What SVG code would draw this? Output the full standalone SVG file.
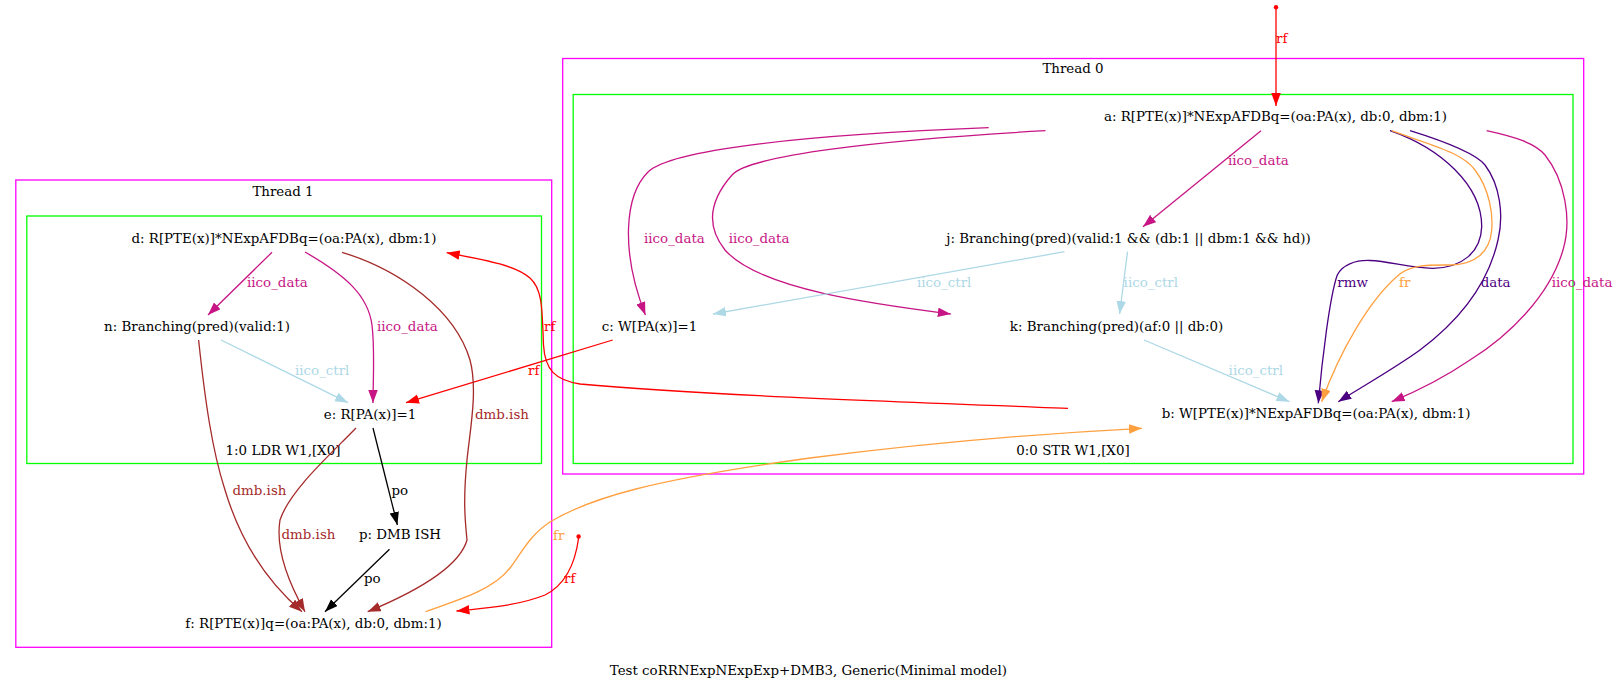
<svg xmlns="http://www.w3.org/2000/svg" width="1619" height="689" viewBox="0 0 1619 689">
<style>
text{font-family:"DejaVu Serif","Liberation Serif",serif;font-size:13.4px;fill:#000}
.c{text-anchor:middle}
.cl1{fill:none;stroke:#ff00ff;stroke-width:1.3}
.cl2{fill:none;stroke:#00ff00;stroke-width:1.3}
.e{fill:none;stroke-width:1.3}
.rf{stroke:#ff0000}.trf{fill:#ff0000}
.id{stroke:#c71585}.tid{fill:#c71585}
.ic{stroke:#add8e6}.tic{fill:#add8e6}
.dm{stroke:#a52a2a}.tdm{fill:#a52a2a}
.po{stroke:#000}.tpo{fill:#000}
.fr{stroke:#ffa040}.tfr{fill:#ffa040}
.in{stroke:#4b0082}.tin{fill:#4b0082}
</style>
<defs>
<marker id="mrf" markerUnits="userSpaceOnUse" markerWidth="14" markerHeight="10" refX="13" refY="4.75" orient="auto"><path d="M0,0L13,4.75L0,9.5z" fill="#ff0000"/></marker>
<marker id="mid" markerUnits="userSpaceOnUse" markerWidth="14" markerHeight="10" refX="13" refY="4.75" orient="auto"><path d="M0,0L13,4.75L0,9.5z" fill="#c71585"/></marker>
<marker id="mic" markerUnits="userSpaceOnUse" markerWidth="14" markerHeight="10" refX="13" refY="4.75" orient="auto"><path d="M0,0L13,4.75L0,9.5z" fill="#add8e6"/></marker>
<marker id="mdm" markerUnits="userSpaceOnUse" markerWidth="14" markerHeight="10" refX="13" refY="4.75" orient="auto"><path d="M0,0L13,4.75L0,9.5z" fill="#a52a2a"/></marker>
<marker id="mpo" markerUnits="userSpaceOnUse" markerWidth="14" markerHeight="10" refX="13" refY="4.75" orient="auto"><path d="M0,0L13,4.75L0,9.5z" fill="#000"/></marker>
<marker id="mfr" markerUnits="userSpaceOnUse" markerWidth="14" markerHeight="10" refX="13" refY="4.75" orient="auto"><path d="M0,0L13,4.75L0,9.5z" fill="#ffa040"/></marker>
<marker id="min" markerUnits="userSpaceOnUse" markerWidth="14" markerHeight="10" refX="13" refY="4.75" orient="auto"><path d="M0,0L13,4.75L0,9.5z" fill="#4b0082"/></marker>
</defs>
<rect width="1619" height="689" fill="#fff"/>
<g id="thread1">
<rect class="cl1" x="15.8" y="180" width="535.9" height="467.3"/>
<text class="c" x="283" y="196">Thread 1</text>
<rect class="cl2" x="26.8" y="216" width="514.7" height="247.5"/>
<text class="c" x="283" y="455">1:0 LDR W1,[X0]</text>
</g>
<g id="thread0">
<rect class="cl1" x="562.7" y="58.5" width="1021" height="415.5"/>
<text class="c" x="1073" y="73.3">Thread 0</text>
<rect class="cl2" x="573.2" y="94.5" width="999.8" height="369"/>
<text class="c" x="1073" y="455">0:0 STR W1,[X0]</text>
</g>
<g id="node-a"><text class="c" x="1275.5" y="120.7">a: R[PTE(x)]*NExpAFDBq=(oa:PA(x), db:0, dbm:1)</text></g>
<g id="node-j"><text class="c" x="1128.5" y="242.7">j: Branching(pred)(valid:1 &amp;&amp; (db:1 || dbm:1 &amp;&amp; hd))</text></g>
<g id="node-c"><text class="c" x="649.5" y="331">c: W[PA(x)]=1</text></g>
<g id="node-k"><text class="c" x="1116.5" y="331">k: Branching(pred)(af:0 || db:0)</text></g>
<g id="node-b"><text class="c" x="1316" y="418">b: W[PTE(x)]*NExpAFDBq=(oa:PA(x), dbm:1)</text></g>
<g id="node-d"><text class="c" x="284" y="242.7">d: R[PTE(x)]*NExpAFDBq=(oa:PA(x), dbm:1)</text></g>
<g id="node-n"><text class="c" x="197" y="331">n: Branching(pred)(valid:1)</text></g>
<g id="node-e"><text class="c" x="370" y="418.7">e: R[PA(x)]=1</text></g>
<g id="node-p"><text class="c" x="400" y="539.3">p: DMB ISH</text></g>
<g id="node-f"><text class="c" x="313.5" y="627.7">f: R[PTE(x)]q=(oa:PA(x), db:0, dbm:1)</text></g>
<g id="init0"><circle cx="1276" cy="7.2" r="2.2" fill="#ff0000"/></g>
<g id="init1"><circle cx="578.6" cy="536.5" r="2.2" fill="#ff0000"/></g>
<g id="connectors">
<path class="e rf" d="M1276,9L1276,106" marker-end="url(#mrf)"/>
<text class="trf" x="1276" y="43">rf</text>
<path class="e id" d="M1261,130.7L1143,226.7" marker-end="url(#mid)"/>
<text class="tid" x="1228" y="165">iico_data</text>
<path class="e id" d="M988.7,127.7C800,135 670,150 648,172C625,195 620,250 645.4,315" marker-end="url(#mid)"/>
<text class="tid" x="644" y="243.3">iico_data</text>
<path class="e id" d="M1045.5,130.7C880,140 750,155 732,175C710,200 705,225 725,250C760,290 880,305 950.8,314" marker-end="url(#mid)"/>
<text class="tid" x="728.7" y="243.3">iico_data</text>
<path class="e ic" d="M1064.5,251.7L713,314" marker-end="url(#mic)"/>
<text class="tic" x="917" y="286.7">iico_ctrl</text>
<path class="e ic" d="M1127.5,251.7L1119.6,314" marker-end="url(#mic)"/>
<text class="tic" x="1123.6" y="286.7">iico_ctrl</text>
<path class="e ic" d="M1144,340L1289.4,401.7" marker-end="url(#mic)"/>
<text class="tic" x="1228.6" y="375">iico_ctrl</text>
<path class="e in" d="M1390,130.7C1440,148 1482,185 1481.7,226.7C1481,252 1462,268 1433,268.3C1410,268.5 1390,261 1370,260.5C1355,260 1342,265 1337.3,275C1330,295 1322,360 1318.3,403.3" marker-end="url(#min)"/>
<text class="tin" x="1337.3" y="286.5">rmw</text>
<path class="e fr" d="M1391.7,130.7C1430,145 1462,152 1475,170C1490,190 1493,215 1491.7,230C1490,252 1475,265 1450,265C1430,265 1410,264 1396.7,276.7C1370,300 1340,350 1321.7,401.7" marker-end="url(#mfr)"/>
<text class="tfr" x="1399" y="286.5">fr</text>
<path class="e in" d="M1410,130.7C1440,140 1475,153 1485,165C1500,185 1504,215 1498,240C1488,285 1460,320 1420,350C1395,368 1365,385 1338.3,401.7" marker-end="url(#min)"/>
<text class="tin" x="1480.7" y="286.5">data</text>
<path class="e id" d="M1486.7,130.7C1515,137 1535,143 1545,155C1565,180 1572,220 1563,250C1550,295 1510,335 1470,360C1445,377 1415,392 1391.7,401.7" marker-end="url(#mid)"/>
<text class="tid" x="1551.7" y="286.5">iico_data</text>
<path class="e rf" d="M1068,408.3C900,402 700,395 580,384C555,380 545,370 543.5,345C542,310 543,290 530,278C515,265 485,260 446.7,252.7" marker-end="url(#mrf)"/>
<text class="trf" x="544" y="330.7">rf</text>
<path class="e rf" d="M612.7,340L406,402.7" marker-end="url(#mrf)"/>
<text class="trf" x="528" y="375">rf</text>
<path class="e id" d="M272,252.3L208,315" marker-end="url(#mid)"/>
<text class="tid" x="247" y="286.7">iico_data</text>
<path class="e id" d="M305,252C345,275 368,295 372,325C375,350 373,380 373,403" marker-end="url(#mid)"/>
<text class="tid" x="377" y="331">iico_data</text>
<path class="e ic" d="M221,340L348,402.7" marker-end="url(#mic)"/>
<text class="tic" x="295" y="374.7">iico_ctrl</text>
<path class="e dm" d="M342,252.3C400,270 455,310 470,360C478,390 470,430 467,460C463,500 465,520 467,540C460,565 420,590 367.7,611.7" marker-end="url(#mdm)"/>
<text class="tdm" x="475" y="418.7">dmb.ish</text>
<path class="e dm" d="M198.6,340C205,400 212,450 225,490C240,540 265,580 302,611.7" marker-end="url(#mdm)"/>
<text class="tdm" x="232.5" y="495">dmb.ish</text>
<path class="e dm" d="M356,428C330,455 290,490 280,520C275,550 290,585 305,611.7" marker-end="url(#mdm)"/>
<text class="tdm" x="281.5" y="539.3">dmb.ish</text>
<path class="e po" d="M373,428L397.4,525" marker-end="url(#mpo)"/>
<text class="tpo" x="391.5" y="495">po</text>
<path class="e po" d="M389.5,549.3L325,611.7" marker-end="url(#mpo)"/>
<text class="tpo" x="364" y="583.3">po</text>
<path class="e rf" d="M578.6,538C575,565 565,585 545,595C520,605 490,608 456.5,611" marker-end="url(#mrf)"/>
<text class="trf" x="564" y="583.3">rf</text>
<path class="e fr" d="M425.5,611.7C465,598 495,588 510,568C522,552 530,535 550,522C590,498 650,480 810,458C950,440 1050,433 1142,428.3" marker-end="url(#mfr)"/>
<text class="tfr" x="553" y="540">fr</text>
</g>
<text class="c" x="808.4" y="675">Test coRRNExpNExpExp+DMB3, Generic(Minimal model)</text>
</svg>
